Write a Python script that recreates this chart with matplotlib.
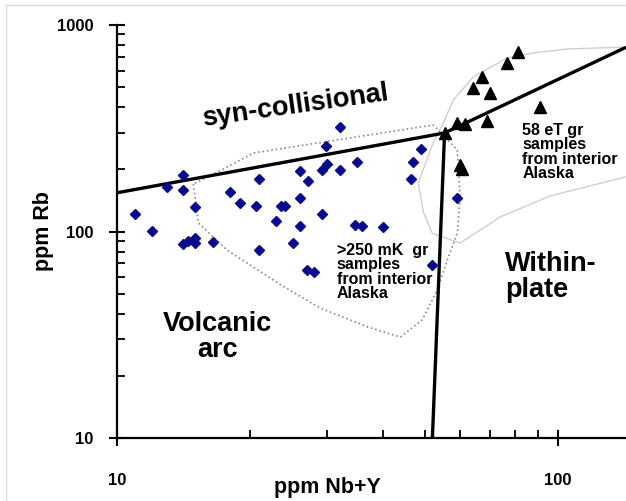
import numpy as np
import matplotlib
matplotlib.use("Agg")
from matplotlib import pyplot as plt
from matplotlib.lines import Line2D

plt.rcParams['font.family'] = ['Liberation Sans', 'DejaVu Sans']
plt.rcParams['font.weight'] = 'bold'

# >250 mK granites (blue diamonds), ppm Nb+Y vs ppm Rb
mk_nby = [14.1, 13.0, 14.1, 15.0, 11.0, 12.0, 14.1, 14.5, 15.0, 15.0, 16.5,
          21.0, 18.0, 19.0, 20.7, 22.9, 21.0, 23.5, 24.0, 32.0, 29.8, 49.0,
          46.9, 30.0, 29.1, 32.0, 35.1, 26.0, 27.1, 46.3, 26.0, 29.1, 26.0,
          34.6, 36.0, 40.0, 59.0, 25.0, 51.9, 27.0, 28.0]
mk_rb = [188, 164, 158, 132, 122, 101, 87, 90, 93, 88, 89,
         180, 155, 137, 133, 112, 81, 133, 133, 320, 260, 252,
         218, 212, 198, 199, 218, 196, 176, 180, 145, 122, 106,
         108, 106, 105, 146, 88, 69, 65, 64]

# eT granites (black triangles)
et_nby = [81.3, 76.8, 67.4, 64.2, 70.2, 91.1, 59.0, 61.6, 69.1, 55.3, 60.0, 60.7]
et_rb = [744, 652, 562, 494, 471, 403, 336, 333, 342, 300, 211, 200]

# field outline of the mK samples (dotted)
mk_field_nby = [14.9, 15.3, 17.8, 23.9, 28.9, 37.0, 43.9, 49.2, 53.2, 56.1,
                59.1, 60.0, 59.1, 54.1, 52.1, 20.4, 16.75, 14.9]
mk_field_rb = [170, 110, 81, 54, 42.6, 34.5, 30.8, 37.3, 52.1, 72.8,
               98, 147, 248, 303, 328, 240, 192, 170]

# field outline of the eT samples (thin grey)
et_field_nby = [142.6, 104.8, 87.8, 76.7, 64.2, 57.9, 54.9, 52.1, 48.2, 49.5,
                51.85, 60.0, 73.9, 95.9, 142.6]
et_field_rb = [782, 765, 732, 692, 560, 433, 335, 268, 172, 124,
               98, 88, 117.5, 148.6, 184]

# Pearce et al. discrimination boundaries
syn_vag_x = [10, 55.3]
syn_vag_y = [154, 300]
syn_wpg_x = [55.3, 142.6]
syn_wpg_y = [300, 780]
vag_wpg_x = [55.3, 51.9]
vag_wpg_y = [300, 10]

fig = plt.figure(figsize=(6.26, 5.01), dpi=100)
ax = fig.add_axes([117 / 626, 63 / 501, 509 / 626, 413 / 501])
ax.set_xscale('log')
ax.set_yscale('log')
ax.set_xlim(10, 142.6)
ax.set_ylim(10, 1000)

ax.plot(et_field_nby, et_field_rb, color='#cfcfcf', lw=1.0, zorder=1)
ax.plot(mk_field_nby, mk_field_rb, color='#8a8a8a', lw=1.2, ls=':', zorder=1)

for xs, ys in [(syn_vag_x, syn_vag_y), (syn_wpg_x, syn_wpg_y), (vag_wpg_x, vag_wpg_y)]:
    ax.plot(xs, ys, color='black', lw=2.4, solid_capstyle='butt', zorder=2)

ax.plot(mk_nby, mk_rb, 'D', color='#0a0a8c', markersize=5, ls='none', zorder=3)
ax.plot(et_nby, et_rb, '^', color='black', markersize=8.5, ls='none', zorder=3)

for side in ['top', 'right']:
    ax.spines[side].set_visible(False)
for side in ['left', 'bottom']:
    ax.spines[side].set_linewidth(1.6)

ax.set_xticks([10, 100])
ax.set_xticklabels(['10', '100'])
ax.set_yticks([10, 100, 1000])
ax.set_yticklabels(['10', '100', '1000'])
ax.tick_params(which='major', direction='inout', length=12, width=1.5, labelsize=12)
ax.tick_params(which='minor', direction='in', length=6, width=1.3)
ax.tick_params(axis='x', which='major', pad=19)
ax.tick_params(axis='y', which='major', pad=11)
ax.yaxis.set_minor_formatter(plt.NullFormatter())
ax.xaxis.set_minor_formatter(plt.NullFormatter())

ax.set_xlabel('ppm Nb+Y', fontsize=15.5, fontweight='bold')
ax.set_ylabel('ppm Rb', fontsize=15.5, fontweight='bold')
ax.xaxis.set_label_coords(0.4126, -0.095)
ax.yaxis.set_label_coords(-0.124, 0.5)

ax.text(25.3, 405, 'syn-collisional', fontsize=19.5, fontweight='bold',
        ha='center', va='center', rotation=8, rotation_mode='anchor')
ax.text(16.9, 30.8, 'Volcanic\narc', fontsize=19.5, fontweight='bold',
        ha='center', va='center', linespacing=1.0)
ax.text(75.9, 60.2, 'Within-\nplate', fontsize=19.5, fontweight='bold',
        ha='left', va='center', linespacing=1.0)
ax.text(82.9, 335, '58 eT gr\nsamples\nfrom interior\nAlaska', fontsize=11.5,
        fontweight='bold', ha='left', va='top', linespacing=0.95)
ax.text(31.5, 88, '>250 mK  gr\nsamples\nfrom interior\nAlaska', fontsize=11.5,
        fontweight='bold', ha='left', va='top', linespacing=0.95)

# light frame of the original picture
fig.add_artist(Line2D([6 / 626, 6 / 626], [0, 1 - 5 / 501], color='#dcdcdc', lw=1))
fig.add_artist(Line2D([6 / 626, 1], [1 - 5 / 501, 1 - 5 / 501], color='#dcdcdc', lw=1))

fig.savefig('out.png', dpi=100)
